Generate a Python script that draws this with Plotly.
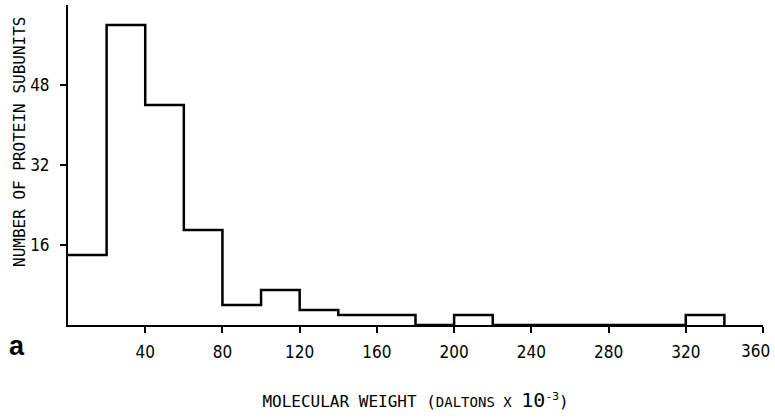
import plotly.graph_objects as go

# Histogram bin left edges (x 10^3 daltons) and counts
bin_edges = [0, 20, 40, 60, 80, 100, 120, 140, 160, 180, 200, 220, 240, 260, 280, 300, 320, 340]
counts = [14, 60, 44, 19, 4, 7, 3, 2, 2, 0, 2, 0, 0, 0, 0, 0, 2, 0]

x_ticks = [40, 80, 120, 160, 200, 240, 280, 320, 360]
y_ticks = [16, 32, 48]

tick_font = dict(family="DejaVu Sans Condensed, DejaVu Sans, sans-serif", size=17, color="black")
title_font = dict(family="DejaVu Sans Mono, Liberation Mono, monospace", size=15, color="black")

# the last tick label sits at the page edge: draw it as an annotation nudged left
x_ticktext = [str(v) for v in x_ticks[:-1]] + [""]

fig = go.Figure()
fig.add_trace(go.Scatter(
    x=bin_edges, y=counts, mode="lines",
    line=dict(shape="hv", color="black", width=2.5),
    cliponaxis=False, showlegend=False, hoverinfo="skip",
))

fig.update_layout(
    width=775, height=420,
    margin=dict(l=68, r=12, t=5, b=95),
    paper_bgcolor="white", plot_bgcolor="white",
    xaxis=dict(
        range=[0, 360], tickvals=x_ticks, ticktext=x_ticktext,
        ticks="outside", ticklen=6, tickwidth=2, tickcolor="black",
        showline=True, linecolor="black", linewidth=2,
        showgrid=False, zeroline=False, tickfont=tick_font,
        ticklabelstandoff=5, automargin=False,
        title=dict(
            text="MOLECULAR WEIGHT (<span style='font-size:14px'>DALTONS X</span> <span style='font-size:20px'>10</span><sup>-3</sup>)",
            font=dict(title_font, size=16), standoff=34,
        ),
    ),
    yaxis=dict(
        range=[0, 64], tickvals=y_ticks, ticktext=[str(v) for v in y_ticks],
        ticks="outside", ticklen=6, tickwidth=2, tickcolor="black",
        showline=True, linecolor="black", linewidth=2,
        showgrid=False, zeroline=False, tickfont=tick_font,
        ticklabelstandoff=7, automargin=False,
    ),
)

fig.add_annotation(
    text=str(x_ticks[-1]), xref="x", x=x_ticks[-1], yref="paper", y=0,
    xanchor="center", yanchor="top", xshift=-8, yshift=-14,
    showarrow=False, font=tick_font,
)

fig.add_annotation(
    text="NUMBER OF PROTEIN SUBUNITS", xref="paper", yref="paper",
    x=(19 - 68) / 695, y=(325 - 142) / 320, textangle=-90,
    xanchor="center", yanchor="middle", showarrow=False,
    font=dict(title_font, size=16),
)

fig.add_annotation(
    text="<b>a</b>", xref="paper", yref="paper", x=(17 - 68) / 695, y=(325 - 346) / 320,
    xanchor="center", yanchor="middle", showarrow=False,
    font=dict(family="Arial, Liberation Sans, sans-serif", size=27, color="black"),
)

fig.write_html("out.html")
